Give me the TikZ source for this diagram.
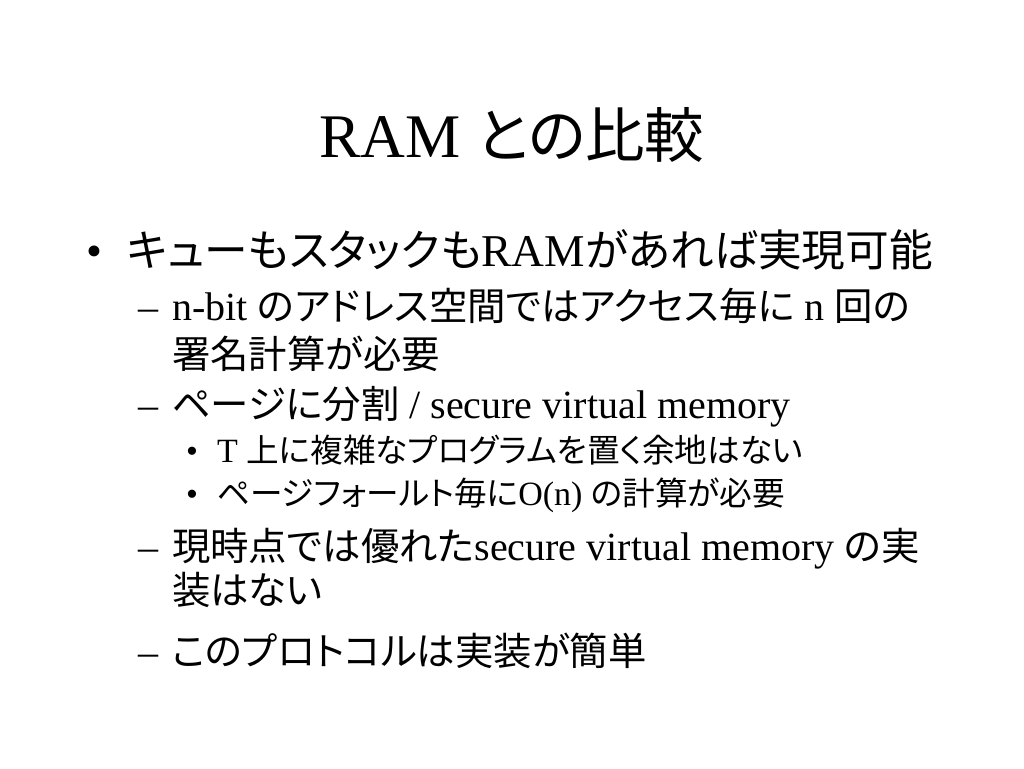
\documentclass[tikz,border=0pt]{standalone}
\usepackage{fontspec}
\setmainfont{Liberation Serif}
\newfontfamily\jpf[RawFeature=+palt,Scale=0.96]{Noto Sans CJK JP}
\newcommand\J[1]{{\jpf #1}}
\begin{document}
\begin{tikzpicture}[x=1pt,y=-1pt,
  txt/.style={anchor=base west, inner sep=0pt, outer sep=0pt, text=black},
  ttl/.style={anchor=base, inner sep=0pt, font=\fontsize{62}{62}\selectfont},
  lone/.style={txt, font=\fontsize{45.5}{45.5}\selectfont},
  ltwo/.style={txt, font=\fontsize{40}{40}\selectfont},
  lthree/.style={txt, font=\fontsize{34}{34}\selectfont}]
\useasboundingbox (0,0) rectangle (1024,768);
\fill[white] (0,0) rectangle (1024,768);

\node[ttl] (title) at (512,157) {RAM \J{との比較}};

\node[lone] (b1) at (86,266) {•};
\node[lone] (t1) at (127,266) {\J{キューもスタックも}RAM\J{があれば実現可能}};

\node[ltwo] (d1) at (138,320) {–};
\node[ltwo] (t2) at (172,320) {n-bit \J{のアドレス空間ではアクセス毎に} n \J{回の}};
\node[ltwo] (t2b) at (172,368) {\J{署名計算が必要}};

\node[ltwo] (d2) at (138,418) {–};
\node[ltwo] (t3) at (172,418) {\J{ページに分割} / secure virtual memory};

\node[lthree] (b3) at (186,462) {•};
\node[lthree] (t4) at (217,462) {T \J{上に複雑なプログラムを置く余地はない}};
\node[lthree] (b4) at (186,505) {•};
\node[lthree] (t5) at (217,505) {\J{ページフォールト毎に}O(n) \J{の計算が必要}};

\node[ltwo] (d3) at (138,560) {–};
\node[ltwo] (t6) at (172,560) {\J{現時点では優れた}secure virtual memory \J{の実}};
\node[ltwo] (t6b) at (172,604) {\J{装はない}};

\node[ltwo] (d4) at (138,665) {–};
\node[ltwo] (t7) at (172,665) {\J{このプロトコルは実装が簡単}};
\end{tikzpicture}
\end{document}
